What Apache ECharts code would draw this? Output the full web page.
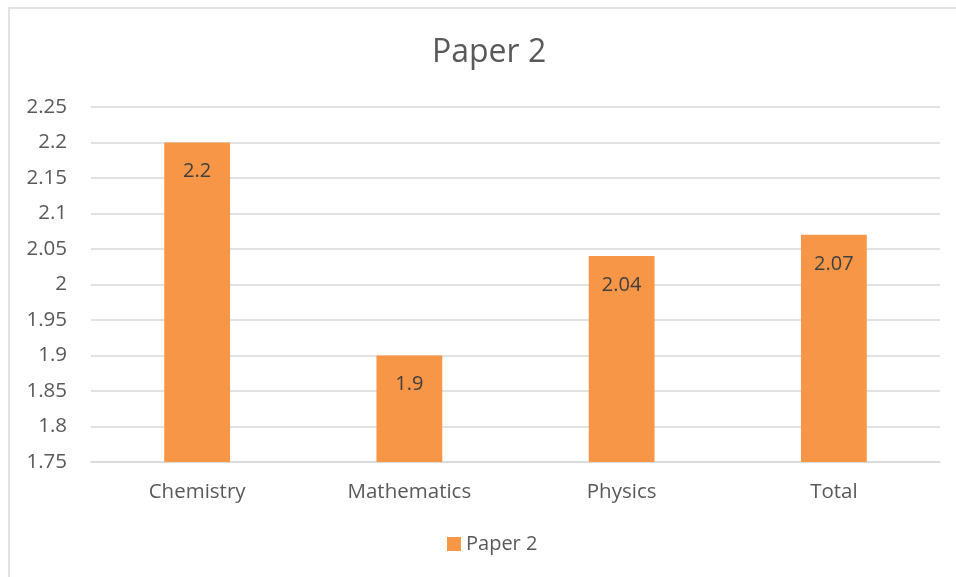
<!DOCTYPE html>
<html><head><meta charset="utf-8">
<script src="https://cdn.jsdelivr.net/npm/echarts@6/dist/echarts.min.js"></script>
<style>html,body{margin:0;padding:0;background:#fff}#c{width:956px;height:577px}</style>
</head><body><div id="c"></div>
<script>
var categories = ['Chemistry', 'Mathematics', 'Physics', 'Total'];
var values = [2.2, 1.9, 2.04, 2.07];
var seriesName = 'Paper 2';
var titleText = 'Paper 2';
var yMin = 1.75, yMax = 2.25, yStep = 0.05;

var FONT = 'Open Sans';
var chart = echarts.init(document.getElementById('c'));
chart.setOption({
  animation: false,
  graphic: [{type: 'rect', shape: {x: 9, y: 8, width: 960, height: 600},
    style: {fill: 'none', stroke: '#D9D9D9', lineWidth: 1.5}, silent: true}],
  title: {text: titleText, left: 427, top: 32,
    textStyle: {fontFamily: FONT, fontSize: 32, fontWeight: 'normal', color: '#595959'}},
  legend: {bottom: 18, left: 442, itemWidth: 14, itemHeight: 14, icon: 'rect', itemGap: 6,
    textStyle: {fontFamily: FONT, fontSize: 20, color: '#595959'}},
  grid: {left: 91, right: 16, top: 107, bottom: 115},
  xAxis: {type: 'category', data: categories,
    axisLine: {lineStyle: {color: '#D9D9D9', width: 1.5}}, axisTick: {show: false},
    axisLabel: {fontFamily: FONT, fontSize: 20.5, color: '#595959', margin: 20}},
  yAxis: {type: 'value', min: yMin, max: yMax, interval: yStep,
    axisLine: {show: false}, axisTick: {show: false},
    splitLine: {lineStyle: {color: '#D9D9D9', width: 1.5}},
    axisLabel: {fontFamily: FONT, fontSize: 20.5, color: '#595959', margin: 24,
      formatter: function (v) { return String(parseFloat(v.toFixed(2))); }}},
  series: [{name: seriesName, type: 'bar', data: values, barWidth: '31%',
    itemStyle: {color: '#F79646'},
    label: {show: true, position: 'insideTop', distance: 19,
      fontFamily: FONT, fontSize: 20, color: '#404040',
      formatter: function (p) { return String(p.value); }}}]
});
</script></body></html>
